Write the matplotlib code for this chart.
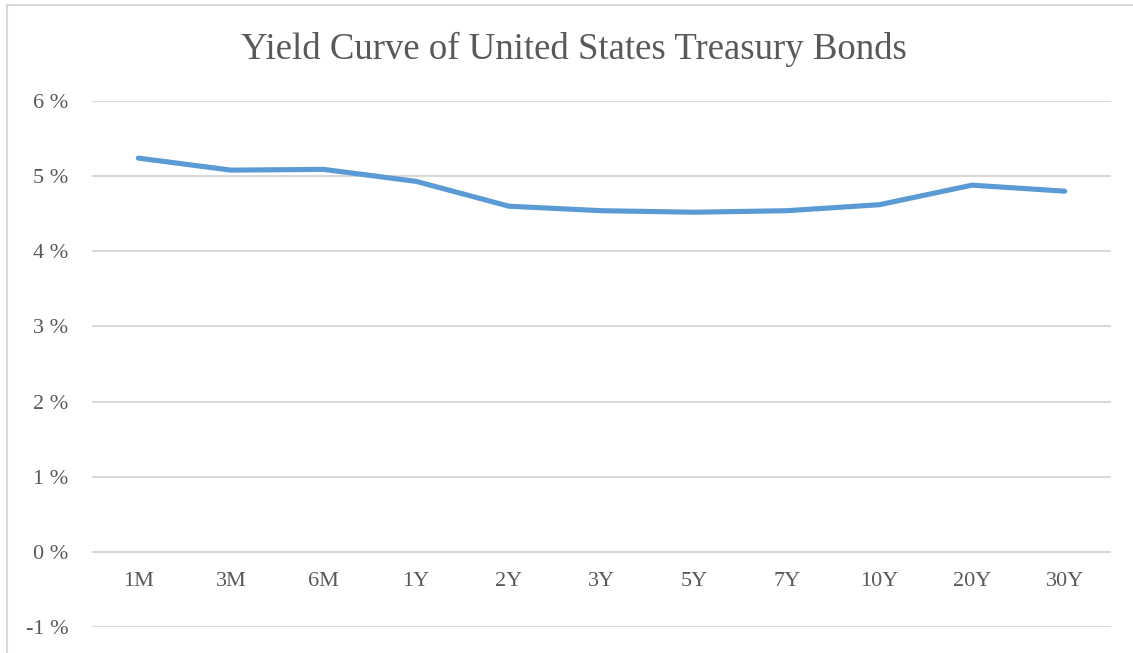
import matplotlib
matplotlib.use("Agg")
import matplotlib.pyplot as plt
from matplotlib.patches import Rectangle

categories = ["1M", "3M", "6M", "1Y", "2Y", "3Y", "5Y", "7Y", "10Y", "20Y", "30Y"]
yields = [5.24, 5.08, 5.09, 4.93, 4.60, 4.54, 4.52, 4.54, 4.62, 4.88, 4.80]
y_ticks = [-1, 0, 1, 2, 3, 4, 5, 6]
y_tick_labels = ["-1 %", "0 %", "1 %", "2 %", "3 %", "4 %", "5 %", "6 %"]
title = "Yield Curve of United States Treasury Bonds"

W, H = 1133, 653
fig = plt.figure(figsize=(W / 100, H / 100), dpi=100)
fig.patch.set_facecolor("white")

# outer chart border (cropped on right/bottom)
fig.patches.append(Rectangle((7 / W, -0.05), 1.2, (H - 5) / H + 0.05,
                             transform=fig.transFigure, fill=False,
                             edgecolor="#d9d9d9", linewidth=1.5))

ax = fig.add_axes([92 / W, 1 - 627 / H, (1111 - 92) / W, (627 - 101) / H])
x = list(range(len(categories)))
ax.plot(x, yields, color="#5B9BD5", linewidth=3.7, solid_capstyle="round",
        solid_joinstyle="round", zorder=3)
ax.set_xlim(-0.5, len(categories) - 0.5)
ax.set_ylim(-1, 6)
ax.set_yticks(y_ticks)
ax.set_yticklabels(y_tick_labels)
ax.grid(axis="y", color="#d9d9d9", linewidth=1.5)
ax.set_axisbelow(True)
for s in ax.spines.values():
    s.set_visible(False)
ax.tick_params(axis="y", length=0, pad=17, labelsize=16, labelcolor="#595959")
ax.set_xticks([])
for lbl in ax.get_yticklabels():
    lbl.set_fontfamily("Liberation Serif")

for i, c in enumerate(categories):
    ax.text(i, -0.39, c, ha="center", va="center", fontsize=16,
            family="Liberation Serif", color="#595959")

fig.text(574 / W, 1 - 49 / H, title, ha="center", va="center", fontsize=26.5,
         family="Liberation Serif", color="#595959")

fig.savefig("out.png", dpi=100)
